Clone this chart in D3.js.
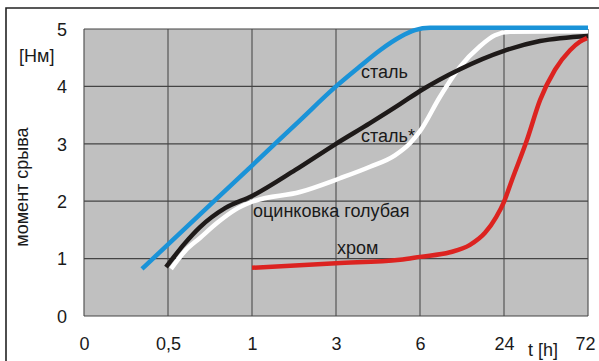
<!DOCTYPE html>
<html><head><meta charset="utf-8">
<script src="https://cdn.jsdelivr.net/npm/d3@7/dist/d3.min.js"></script>
<style>html,body{margin:0;padding:0;background:#fff;}svg{display:block;}</style>
</head><body>
<script>
// Categories of the time axis (equally spaced)
const timeLabels = ["0", "0,5", "1", "3", "6", "24", "72"];
const yTicks = [0, 1, 2, 3, 4, 5];
// Series: [position on category axis (index), moment value]
const steel = [[0.69,0.82],[1.381,1.77],[2.0,2.62],[2.571,3.41],[3.0,4.0],[3.286,4.35],[3.524,4.63],[3.762,4.86],[3.94,4.98],[4.12,5.02],[6.0,5.02]];
const steelStar = [[0.976,0.85],[1.202,1.27],[1.381,1.55],[1.679,1.88],[2.0,2.09],[2.512,2.54],[3.0,3.0],[3.405,3.36],[3.762,3.69],[4.0,3.92],[4.476,4.30],[5.0,4.62],[5.429,4.79],[6.0,4.88]];
const zincBlue = [[1.036,0.82],[1.202,1.13],[1.381,1.36],[1.583,1.62],[1.798,1.85],[2.0,1.99],[2.571,2.16],[3.048,2.40],[3.405,2.60],[3.702,2.80],[3.881,3.01],[4.0,3.22],[4.238,3.82],[4.476,4.34],[4.714,4.70],[4.893,4.89],[5.071,4.95],[6.0,4.96]];
const chrome = [[2.0,0.84],[3.0,0.92],[3.762,0.98],[4.0,1.03],[4.357,1.11],[4.595,1.24],[4.774,1.45],[4.905,1.72],[5.0,1.99],[5.095,2.37],[5.274,3.07],[5.429,3.76],[5.607,4.29],[5.786,4.63],[5.905,4.78],[5.988,4.84]];
const seriesNames = ["сталь", "сталь*", "оцинковка голубая", "хром"];

const W = 599, H = 361;
const m = {left: 84, right: 11, top: 29, bottom: 45};
const font = "'Liberation Sans', Arial, sans-serif";

const svg = d3.select("body").append("svg").attr("width", W).attr("height", H)
  .style("font-family", font);

// outer frame (top and left visible)
svg.append("path").attr("d", `M6,${H} L6,8 L${W},8`).attr("fill", "none")
  .attr("stroke", "#222").attr("stroke-width", 1.6);

const x = d3.scaleLinear().domain([0, timeLabels.length - 1]).range([m.left, W - m.right]);
const y = d3.scaleLinear().domain([0, 5]).range([H - m.bottom, m.top]);

// plot background
svg.append("rect").attr("x", x(0)).attr("y", y(5)).attr("width", x(6) - x(0)).attr("height", y(0) - y(5))
  .attr("fill", "#c0c0c0");

// grid
const g = svg.append("g");
g.selectAll(".vg").data(d3.range(timeLabels.length)).join("line")
  .attr("x1", d => x(d)).attr("x2", d => x(d)).attr("y1", y(0)).attr("y2", y(5))
  .attr("stroke", "#555").attr("stroke-width", 1.2);
g.selectAll(".hg").data(yTicks).join("line")
  .attr("x1", x(0)).attr("x2", x(6)).attr("y1", d => y(d)).attr("y2", d => y(d))
  .attr("stroke", "#444").attr("stroke-width", 1.2);

// axes (labels only)
const xAxis = d3.axisBottom(x).tickValues(d3.range(timeLabels.length)).tickFormat(i => timeLabels[i]).tickSize(0).tickPadding(0);
const xa = svg.append("g").attr("transform", `translate(0,${y(0)})`).call(xAxis);
xa.select(".domain").remove();
xa.selectAll("text").attr("dy", null).attr("y", 34).style("font-size", "18px").style("font-family", font).attr("fill", "#1a1a1a");
xa.selectAll("text").filter((d,i) => i === timeLabels.length - 1).attr("dx", -3);

const yAxis = d3.axisLeft(y).tickValues(yTicks).tickFormat(d3.format("d")).tickSize(0).tickPadding(0);
const ya = svg.append("g").attr("transform", `translate(${x(0) - 17},0)`).call(yAxis);
ya.select(".domain").remove();
ya.selectAll("text").attr("dy", "0.35em").style("font-size", "18px").style("font-family", font).attr("fill", "#1a1a1a");

svg.append("text").attr("x", 19).attr("y", 62).text("[Нм]").style("font-size", "18px").attr("fill", "#1a1a1a");
svg.append("text").attr("transform", "translate(28,187) rotate(-90)").attr("text-anchor", "middle")
  .text("момент срыва").style("font-size", "18px").attr("fill", "#1a1a1a");
svg.append("text").attr("x", 528).attr("y", 356).text("t [h]").style("font-size", "18px").attr("fill", "#1a1a1a");

// lines
const line = d3.line().x(d => x(d[0])).y(d => y(d[1])).curve(d3.curveMonotoneX);
const series = [
  {data: zincBlue, color: "#ffffff"},
  {data: steelStar, color: "#1e1a19"},
  {data: chrome, color: "#dc2320"},
  {data: steel, color: "#1a93d8"}
];
svg.selectAll(".ln").data(series).join("path")
  .attr("d", d => line(d.data)).attr("fill", "none")
  .attr("stroke", d => d.color).attr("stroke-width", 4.5);

// labels in plot
const labels = [
  {t: seriesNames[0], x: 361, y: 78},
  {t: seriesNames[1], x: 361, y: 142},
  {t: seriesNames[2], x: 253, y: 217},
  {t: seriesNames[3], x: 337, y: 254}
];
svg.selectAll(".lb").data(labels).join("text")
  .attr("x", d => d.x).attr("y", d => d.y).text(d => d.t)
  .style("font-size", "18px").attr("fill", "#1a1a1a");
</script>
</body></html>
